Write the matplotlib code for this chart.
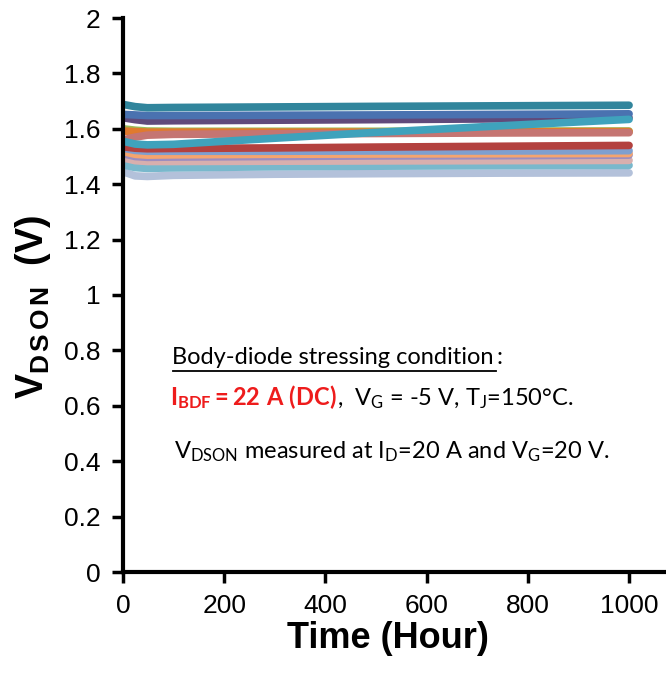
import matplotlib
matplotlib.use("Agg")
import matplotlib.pyplot as plt
from matplotlib.lines import Line2D

plt.rcParams['mathtext.fontset'] = 'custom'
plt.rcParams['mathtext.rm'] = 'Lato'
plt.rcParams['mathtext.it'] = 'Lato'
plt.rcParams['mathtext.bf'] = 'Lato:bold'
plt.rcParams['mathtext.sf'] = 'Liberation Sans:bold'

hours = [0, 24, 48, 100, 300, 500, 750, 1000]

teal = [1.688, 1.680, 1.676, 1.677, 1.679, 1.681, 1.683, 1.685]
blue = [1.652, 1.650, 1.648, 1.648, 1.649, 1.650, 1.652, 1.654]
purple = [1.640, 1.633, 1.628, 1.629, 1.631, 1.633, 1.636, 1.640]
green = [1.600, 1.595, 1.592, 1.591, 1.591, 1.591, 1.592, 1.592]
orange = [1.592, 1.590, 1.588, 1.588, 1.588, 1.588, 1.589, 1.590]
rose = [1.560, 1.570, 1.577, 1.580, 1.582, 1.583, 1.585, 1.586]
red = [1.535, 1.530, 1.528, 1.529, 1.531, 1.534, 1.537, 1.540]
slate = [1.530, 1.522, 1.519, 1.519, 1.519, 1.520, 1.520, 1.521]
light_orange = [1.518, 1.508, 1.505, 1.506, 1.508, 1.509, 1.510, 1.511]
lavender = [1.510, 1.500, 1.497, 1.498, 1.500, 1.502, 1.503, 1.505]
pinkish = [1.495, 1.485, 1.482, 1.482, 1.483, 1.484, 1.485, 1.486]
light_blue = [1.470, 1.460, 1.457, 1.459, 1.463, 1.465, 1.467, 1.468]
pale_blue = [1.445, 1.430, 1.428, 1.432, 1.436, 1.438, 1.440, 1.441]
cyan = [1.555, 1.545, 1.542, 1.544, 1.566, 1.587, 1.611, 1.634]

series = [
    (pale_blue, '#B3C1DA'),
    (light_blue, '#79B8CC'),
    (pinkish, '#D8AFAE'),
    (lavender, '#9C8DBF'),
    (light_orange, '#F5A46E'),
    (slate, '#7F9FCF'),
    (red, '#B3413F'),
    (green, '#9BBB59'),
    (orange, '#E07A2E'),
    (rose, '#C57572'),
    (purple, '#604A7B'),
    (blue, '#4A72B0'),
    (teal, '#31859C'),
    (cyan, '#3FA2BC'),
]

xticks = [0, 200, 400, 600, 800, 1000]
yticks = [0, 0.2, 0.4, 0.6, 0.8, 1.0, 1.2, 1.4, 1.6, 1.8, 2.0]
ytick_labels = ['0', '0.2', '0.4', '0.6', '0.8', '1', '1.2', '1.4', '1.6', '1.8', '2']

fig = plt.figure(figsize=(6.66, 6.75), dpi=100)
ax = fig.add_axes([123/666, 1-572/675, 1-123/666, (572-18)/675])

for vals, col in series:
    ax.plot(hours, vals, color=col, lw=5.5, solid_capstyle='round', solid_joinstyle='round')

ax.set_xlim(0, 1073)
ax.set_ylim(0, 2)
ax.set_xticks(xticks)
ax.set_yticks(yticks)
ax.set_yticklabels(ytick_labels)
for s in ['top', 'right']:
    ax.spines[s].set_visible(False)
for s in ['left', 'bottom']:
    ax.spines[s].set_linewidth(3)
ax.tick_params(axis='both', direction='out', length=8, width=2.5, labelsize=19, pad=8)
for lab in ax.get_xticklabels() + ax.get_yticklabels():
    lab.set_fontfamily('Liberation Sans')

ax.set_xlabel('Time (Hour)', fontsize=26, fontweight='bold', family='Liberation Sans')
ax.xaxis.set_label_coords(0.488, -0.088)
ax.set_ylabel(r'$\mathsf{V_{D\,S\,O\,N}\ \ (V)}$', fontsize=27)
ax.yaxis.set_label_coords(-0.128, 0.478)

def fx(px):
    return px / 666
def fy(py):
    return 1 - py / 675

fs = 17
fig.text(fx(172), fy(358), 'Body-diode stressing condition', fontsize=fs, family='Lato', va='center', ha='left')
fig.text(fx(497), fy(358), ':', fontsize=fs, family='Lato', va='center', ha='left')
fig.add_artist(Line2D([fx(173), fx(496)], [fy(371), fy(371)], color='black', lw=1.3))
t1 = fig.text(fx(170), fy(397), r'$\mathbf{I_{BDF} = 22\ A\ (DC)}$', fontsize=fs, color='#EE1C1C', va='center', ha='left')
ax.annotate(r',  V$_\mathrm{G}$ = -5 V, T$_\mathrm{J}$=150°C.', xy=(1, 0), xycoords=t1, xytext=(0, 0),
            textcoords='offset points', fontsize=fs, family='Lato', va='bottom', ha='left', annotation_clip=False)
fig.text(fx(174), fy(452), r'V$_\mathrm{DSON}$ measured at I$_\mathrm{D}$=20 A and V$_\mathrm{G}$=20 V.', fontsize=fs, family='Lato', va='center', ha='left')

fig.savefig('out.png', dpi=100)
